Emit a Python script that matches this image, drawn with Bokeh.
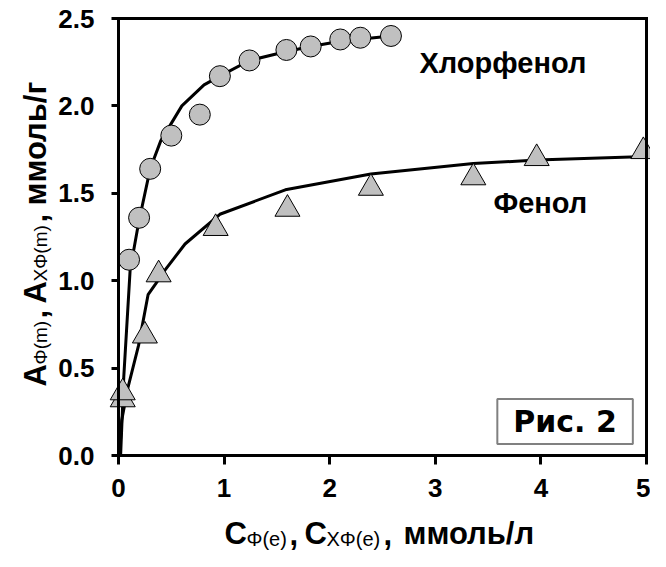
import math
from bokeh.plotting import figure
from bokeh.models import Range1d, Label, FixedTicker, LinearAxis
from bokeh.embed import file_html
from bokeh.resources import INLINE

# --- data ---
chloro_c = [0.10, 0.195, 0.30, 0.50, 0.77, 0.96, 1.24, 1.59, 1.82, 2.10, 2.29, 2.58]
chloro_a = [1.12, 1.36, 1.64, 1.83, 1.95, 2.17, 2.26, 2.32, 2.34, 2.38, 2.39, 2.40]
phenol_c = [0.04, 0.04, 0.25, 0.38, 0.92, 1.60, 2.39, 3.36, 3.96, 4.97]
phenol_a = [0.32, 0.36, 0.685, 1.035, 1.30, 1.41, 1.53, 1.59, 1.70, 1.74]

# fitted curves
chloro_fit_c = [0.02, 0.05, 0.11, 0.19, 0.30, 0.40, 0.60, 0.81, 0.96, 1.24, 1.58, 1.82, 2.10, 2.58]
chloro_fit_a = [0.00, 0.45, 1.06, 1.33, 1.64, 1.80, 2.00, 2.12, 2.17, 2.26, 2.31, 2.34, 2.37, 2.40]
phenol_fit_c = [0.01, 0.03, 0.09, 0.19, 0.28, 0.35, 0.44, 0.63, 0.96, 1.58, 2.39, 3.36, 3.96, 5.00]
phenol_fit_a = [0.00, 0.20, 0.39, 0.63, 0.92, 0.98, 1.06, 1.21, 1.38, 1.52, 1.61, 1.67, 1.69, 1.71]

x_ticks = [0, 1, 2, 3, 4, 5]
y_ticks = [0.0, 0.5, 1.0, 1.5, 2.0, 2.5]
y_tick_labels = {0.0: "0.0", 0.5: "0.5", 1.0: "1.0", 1.5: "1.5", 2.0: "2.0", 2.5: "2.5"}
X_MIN, X_MAX = 0, 5
Y_MIN, Y_MAX = 0, 2.5

FONT = "Liberation Sans"

# canvas layout (pixels): data box spans x 118..646, y 18..455 of a 650x551 canvas
W, H = 650, 551
BL, BR, BT, BB = 118, 646, 18, 455
sx = (BR - BL) / (X_MAX - X_MIN)
sy = (BB - BT) / (Y_MAX - Y_MIN)
x_range = Range1d(X_MIN - BL / sx, X_MAX + (W - BR) / sx)
y_range = Range1d(Y_MIN - (H - BB) / sy, Y_MAX + BT / sy)

p = figure(width=W, height=H, output_backend="svg", toolbar_location=None, title=None,
           x_range=x_range, y_range=y_range,
           x_axis_location=None, y_axis_location=None,
           min_border=0, min_border_left=0, min_border_right=0,
           min_border_top=0, min_border_bottom=0)
p.background_fill_color = "white"
p.border_fill_color = "white"
p.outline_line_color = None
p.xgrid.visible = False
p.ygrid.visible = False


def style_axis(ax, ticks, tick_out):
    ax.axis_line_width = 3
    ax.axis_line_color = "black"
    ax.axis_line_cap = "square"
    ax.major_tick_line_width = 3
    ax.major_tick_line_color = "black"
    ax.major_tick_in = 0
    ax.major_tick_out = tick_out
    ax.minor_tick_line_color = None
    ax.ticker = FixedTicker(ticks=ticks)
    ax.major_label_text_font = FONT
    ax.major_label_text_font_style = "bold"
    ax.major_label_text_font_size = "26px"
    ax.major_label_text_color = "black"


xa = LinearAxis(fixed_location=Y_MIN, bounds=(X_MIN, X_MAX))
style_axis(xa, x_ticks, 9)
xa.major_label_standoff = 14
p.add_layout(xa, "below")

ya = LinearAxis(fixed_location=X_MIN, bounds=(Y_MIN, Y_MAX))
style_axis(ya, y_ticks, 7)
ya.major_label_overrides = y_tick_labels
ya.major_label_standoff = 17
p.add_layout(ya, "left")

# frame top and right edges
ta = LinearAxis(fixed_location=Y_MAX, bounds=(X_MIN, X_MAX))
style_axis(ta, [], 0)
p.add_layout(ta, "above")
ra = LinearAxis(fixed_location=X_MAX, bounds=(Y_MIN, Y_MAX))
style_axis(ra, [], 0)
p.add_layout(ra, "right")

# curves
p.line(chloro_fit_c, chloro_fit_a, line_color="black", line_width=3)
p.line(phenol_fit_c, phenol_fit_a, line_color="black", line_width=3)

# points
p.scatter(chloro_c, chloro_a, marker="circle", size=21,
          fill_color="#c0c0c0", line_color="black", line_width=1)
p.scatter(phenol_c, phenol_a, marker="triangle", size=25,
          fill_color="#c0c0c0", line_color="black", line_width=1)

# series names
p.add_layout(Label(x=2.85, y=2.155, text="Хлорфенол", text_font=FONT, text_font_style="bold",
                   text_font_size="29px", text_color="black"))
p.add_layout(Label(x=3.55, y=1.353, text="Фенол", text_font=FONT, text_font_style="bold",
                   text_font_size="29px", text_color="black"))

# figure tag
p.add_layout(Label(x=4.229, y=0.195, text="Рис. 2", text_font="DejaVu Sans", text_font_style="bold",
                   text_font_size="30px", text_color="black", text_align="center",
                   text_baseline="middle", border_line_color="#808080", border_line_width=2,
                   background_fill_color="white", padding=(16, 16, 5, 5)))


# axis titles are built from pieces placed by canvas pixel position
def px2x(px):
    return x_range.start + px / sx


def py2y(py):
    return y_range.end - py / sy


def lab(text, px, py, size, style="bold", angle=0.0):
    p.add_layout(Label(x=px2x(px), y=py2y(py), text=text, text_font=FONT, text_font_style=style,
                       text_font_size=size, text_color="black", angle=angle,
                       text_align="left", text_baseline="alphabetic"))


# x axis title
lab("C", 224, 533, "31px")
lab("Φ(e)", 246, 538, "20px", style="normal")
lab(",", 289, 533, "31px")
lab("C", 304, 533, "31px")
lab("ХΦ(e)", 326, 538, "20px", style="normal")
lab(",", 383, 533, "31px")
lab("ммоль/л", 403, 533, "31px")

# y axis title (rotated)
R = math.pi / 2
lab("A", 35, 386, "31px", angle=R)
lab("Φ(m)", 40, 364, "19px", style="normal", angle=R)
lab(",", 35, 318, "31px", angle=R)
lab("A", 35, 303, "31px", angle=R)
lab("XΦ(m)", 40, 281, "19px", style="normal", angle=R)
lab(",", 35, 222, "31px", angle=R)
lab("ммоль/г", 35, 205, "31px", angle=R)

open("out.html", "w").write(file_html(p, INLINE))
